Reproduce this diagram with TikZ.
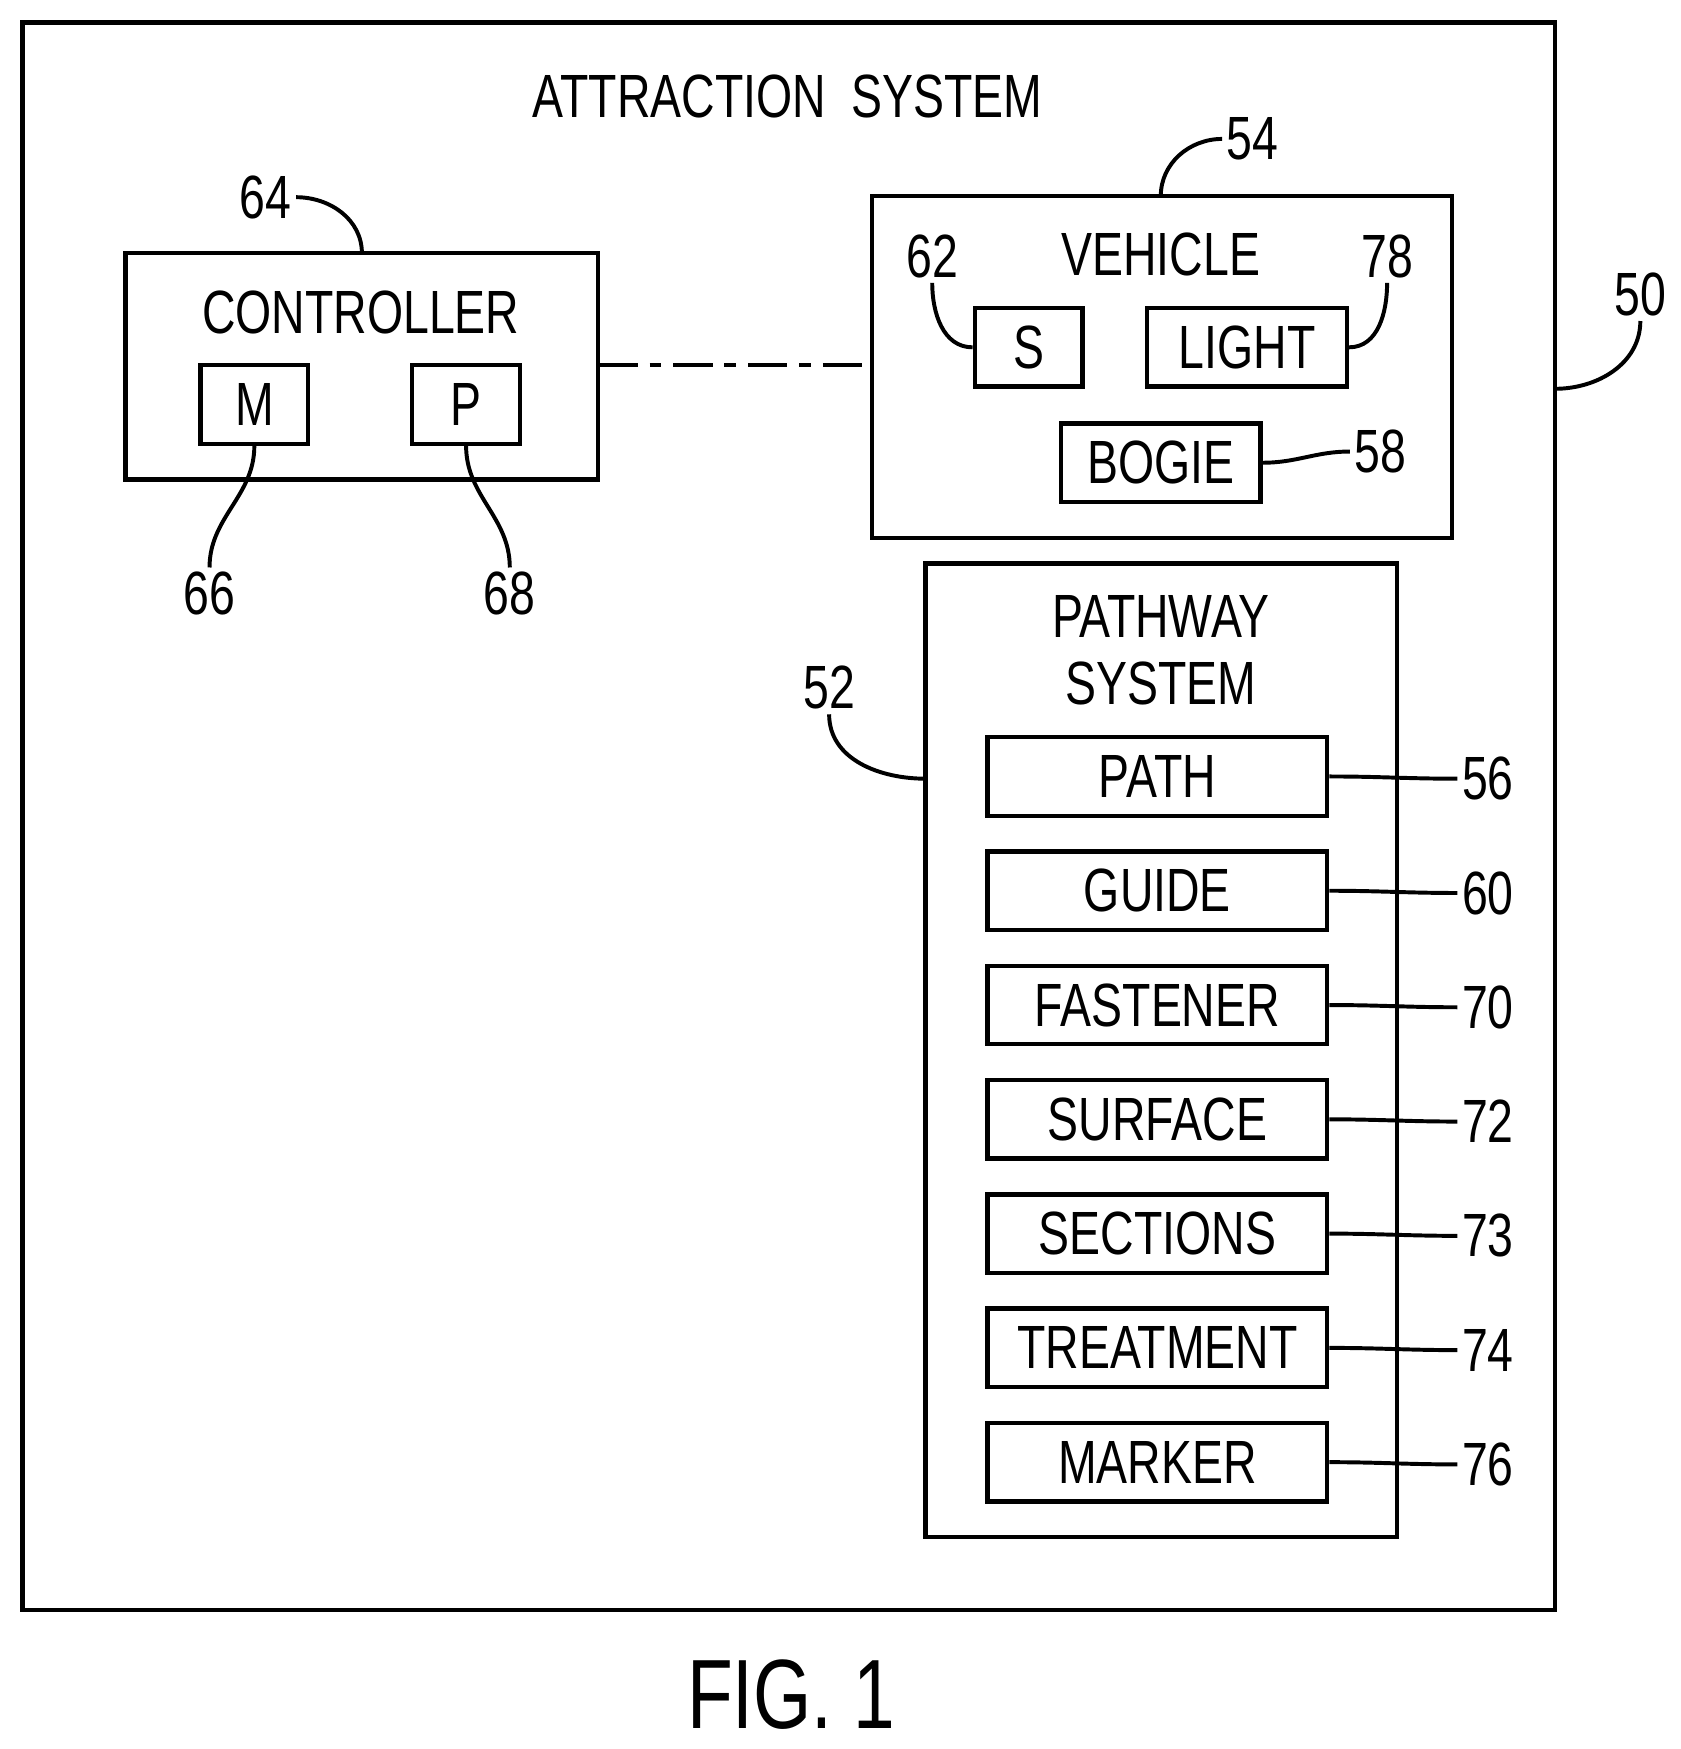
\documentclass[tikz,border=0pt]{standalone}
\usepackage{fontspec}
\setmainfont[FakeStretch=0.76]{Liberation Sans}
\tikzset{
  blk/.style={draw, line width=1.1pt, inner sep=0pt},
  lbl/.style={font=\fontsize{15.5}{18}\selectfont, inner sep=1pt},
  lead/.style={line width=1pt},
}
\begin{document}
\begin{tikzpicture}[x=0.01cm,y=-0.01cm]
	\useasboundingbox (0,0) rectangle (1500,1561);
	% outer frame
	\draw [blk] (20,20) rectangle (1388,1437);
	\node (title) [lbl] at (703,86) {ATTRACTION\ \ SYSTEM};

	% controller
	\draw [blk] (112,226) rectangle (534,428);
	\coordinate (ctrl-top) at (323,226);
	\coordinate (ctrl-r) at (534,326);
	\node (ctrl) [lbl] at (322,279) {CONTROLLER};
	\node (mem) [blk, lbl, minimum width=0.96cm, minimum height=0.7cm] at (227,361) {M};
	\node (proc) [blk, lbl, minimum width=0.96cm, minimum height=0.7cm] at (416,361) {P};

	% vehicle
	\draw [blk] (778,175) rectangle (1296,480);
	\coordinate (veh-top) at (1036,175);
	\coordinate (veh-l) at (778,326);
	\node (veh) [lbl] at (1036,227) {VEHICLE};
	\node (sens) [blk, lbl, minimum width=0.96cm, minimum height=0.7cm] at (918,310) {S};
	\node (light) [blk, lbl, minimum width=1.78cm, minimum height=0.7cm] at (1113,310) {LIGHT};
	\node (bogie) [blk, lbl, minimum width=1.78cm, minimum height=0.7cm] at (1036,413) {BOGIE};

	% pathway system
	\draw [blk] (826,503) rectangle (1247,1372);
	\coordinate (path-l) at (826,695);
	\node (pws) [lbl, align=center] at (1036,580) {PATHWAY\\[-1pt]SYSTEM};
	\foreach \name/\txt/\num [count=\i from 0] in {pth/PATH/56, gde/GUIDE/60, fst/FASTENER/70,
	  srf/SURFACE/72, sec/SECTIONS/73, trt/TREATMENT/74, mrk/MARKER/76} {
		\node (\name) [blk, lbl, minimum width=3.03cm, minimum height=0.7cm] at (1033,693+102*\i) {\txt};
		\node (n\num) [lbl] at (1328,695+102*\i) {\num};
		\draw [lead] (\name.east) to[out=0,in=180] (n\num.west);
	}

	\draw [line width=1pt, dash pattern=on 10pt off 3pt on 3pt off 3pt] (ctrl-r) -- (veh-l);

	% reference numerals
	\node (n64) [lbl] at (237,176) {64};
	\node (n66) [lbl] at (187,530) {66};
	\node (n68) [lbl] at (455,530) {68};
	\node (n54) [lbl] at (1118,124) {54};
	\node (n62) [lbl] at (832,229) {62};
	\node (n78) [lbl] at (1238,229) {78};
	\node (n58) [lbl] at (1232,403) {58};
	\node (n50) [lbl] at (1464,263) {50};
	\node (n52) [lbl] at (740,614) {52};

	\draw [lead] (n64.east) to[out=0,in=90] (ctrl-top);
	\draw [lead] (mem.south) to[out=-90,in=90] (n66.north);
	\draw [lead] (proc.south) to[out=-90,in=90] (n68.north);
	\draw [lead] (n54.west) to[out=180,in=90] (veh-top);
	\draw [lead] (n62.south) to[out=-90,in=180] (sens.west);
	\draw [lead] (n78.south) to[out=-90,in=0] (light.east);
	\draw [lead] (bogie.east) to[out=0,in=180] (n58.west);
	\draw [lead] (n50.south) to[out=-90,in=0] (1388,347);
	\draw [lead] (n52.south) to[out=-90,in=180] (path-l);

	\node (fig) [font=\fontsize{25}{28}\selectfont] at (706,1512) {FIG. 1};
\end{tikzpicture}
\end{document}
